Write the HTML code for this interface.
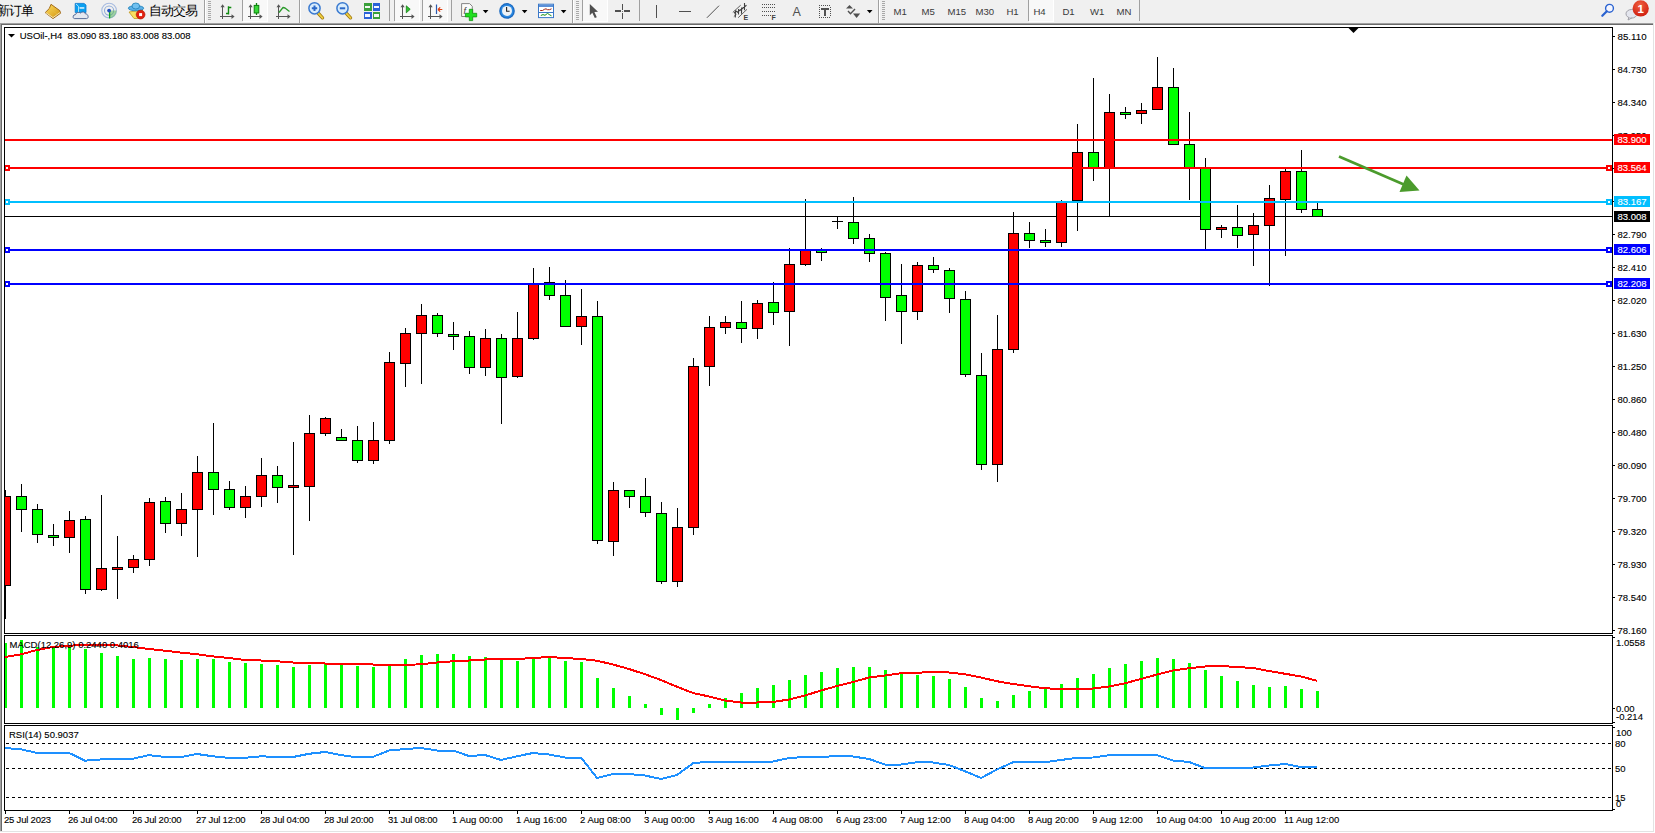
<!DOCTYPE html>
<html><head><meta charset="utf-8"><title>USOil-,H4</title>
<style>
html,body{margin:0;padding:0;width:1655px;height:833px;overflow:hidden;background:#f0f0f0;}
svg{position:absolute;left:0;top:0;display:block;}
text{font-family:'Liberation Sans', sans-serif;}
</style></head><body>
<svg width="1655" height="833" viewBox="0 0 1655 833" shape-rendering="crispEdges">
<defs>
<clipPath id="cm"><rect x="5" y="28" width="1607" height="605"/></clipPath>
<clipPath id="cmacd"><rect x="5" y="636" width="1607" height="87"/></clipPath>
<clipPath id="crsi"><rect x="5" y="726" width="1607" height="84"/></clipPath>
</defs>
<text x="-3" y="14.6" font-size="12.5" font-weight="500" font-family="'Liberation Sans', 'Noto Sans CJK SC', sans-serif" fill="#000" letter-spacing="-1">新订单</text>
<text x="148.5" y="14.6" font-size="12.5" font-weight="500" font-family="'Liberation Sans', 'Noto Sans CJK SC', sans-serif" fill="#000" letter-spacing="-0.9">自动交易</text>
<g shape-rendering="auto"><defs><linearGradient id="gb" x1="0" y1="0" x2="1" y2="1"><stop offset="0" stop-color="#ffe060"/><stop offset="1" stop-color="#d09010"/></linearGradient></defs><path d="M51,4.3 L59.8,10.6 L60.6,13.2 L53,18.6 L45.2,12.6 L49.3,8.5 Z" fill="url(#gb)" stroke="#9a6010" stroke-width="0.9"/><path d="M45.8,12.6 L53,17.6 L60.2,12.4" fill="none" stroke="#f0e0b0" stroke-width="1"/><path d="M49.5,8.6 L57.5,14.3" fill="none" stroke="#e8c040" stroke-width="0.6"/></g>
<g shape-rendering="auto"><path d="M75.2,3.4 H84 L86,5 V12.5 H75.2 Z" fill="#0aa0f0" stroke="#0a78d0" stroke-width="0.8"/><path d="M76,4 L78.5,6.3 V12" stroke="#d0f0ff" stroke-width="0.8" fill="none"/><rect x="79.5" y="7.2" width="4.8" height="1.5" fill="#e0f4ff"/><path d="M74.5,18.6 C72.5,18.6 72.5,14.5 75.5,14.6 C76,12.4 79,11.6 80.5,13 C81.8,11.3 85,11.6 85.3,13.8 C88.3,13.6 89.3,18.6 86.5,18.6 Z" fill="#e4e8f0" stroke="#4a6090" stroke-width="0.9"/></g>
<g shape-rendering="auto"><circle cx="109.1" cy="10.6" r="7.3" fill="none" stroke="#a8bce0" stroke-width="1.1"/><circle cx="109.1" cy="10.6" r="4.6" fill="none" stroke="#90acd8" stroke-width="1.1"/><path d="M109.1,10.6 V18.2 A7.6,7.6 0 0 0 116.7,10.6 Z" fill="#60b860" opacity="0.55"/><path d="M109.6,10.6 V18.4" stroke="#10a020" stroke-width="1.3"/><circle cx="109.1" cy="10.6" r="1.9" fill="#2050c0"/></g>
<g shape-rendering="auto"><path d="M129,12 L134,18.5 L140,18.5 L142.5,10 Z" fill="#f8e060" stroke="#c09820" stroke-width="0.8"/><ellipse cx="136" cy="8.2" rx="7.7" ry="2.6" fill="#5ab0e8" stroke="#2080b8" stroke-width="0.8"/><ellipse cx="135.8" cy="6" rx="3.8" ry="3" fill="#70c0f0" stroke="#2080b8" stroke-width="0.8"/><circle cx="140.6" cy="14.6" r="4.4" fill="#e02010" stroke="#b01000" stroke-width="0.6"/><rect x="139.1" y="13.1" width="3" height="3" fill="#fff"/></g>
<rect x="204" y="0" width="1" height="23" fill="#a0a0a0"/>
<rect x="205" y="0" width="1" height="23" fill="#ffffff"/>
<rect x="208" y="1" width="3" height="1" fill="#a8a8a8"/>
<rect x="208" y="3" width="3" height="1" fill="#a8a8a8"/>
<rect x="208" y="5" width="3" height="1" fill="#a8a8a8"/>
<rect x="208" y="7" width="3" height="1" fill="#a8a8a8"/>
<rect x="208" y="9" width="3" height="1" fill="#a8a8a8"/>
<rect x="208" y="11" width="3" height="1" fill="#a8a8a8"/>
<rect x="208" y="13" width="3" height="1" fill="#a8a8a8"/>
<rect x="208" y="15" width="3" height="1" fill="#a8a8a8"/>
<rect x="208" y="17" width="3" height="1" fill="#a8a8a8"/>
<rect x="208" y="19" width="3" height="1" fill="#a8a8a8"/>
<rect x="222" y="5" width="1.2" height="14" fill="#555"/><rect x="220" y="16" width="13" height="1.2" fill="#555"/><path d="M220.5,7.3 L222.6,4.3 L224.7,7.3 Z M231.5,14.2 L234.6,16.6 L231.5,19 Z" fill="#555" shape-rendering="auto"/>
<path d="M228.5,6.3 V14.5 M228.5,7.5 H231.3 M228.5,13.5 H226" stroke="#108a10" stroke-width="1.4" fill="none" shape-rendering="auto"/>
<rect x="242" y="0" width="1" height="21" fill="#a0a0a0"/>
<rect x="243" y="0" width="24" height="21" fill="#f8f8f8"/>
<rect x="267" y="0" width="1" height="22" fill="#ffffff"/>
<rect x="243" y="21" width="25" height="1" fill="#ffffff"/>
<rect x="250" y="5" width="1.2" height="14" fill="#555"/><rect x="248" y="16" width="13" height="1.2" fill="#555"/><path d="M248.5,7.3 L250.6,4.3 L252.7,7.3 Z M259.5,14.2 L262.6,16.6 L259.5,19 Z" fill="#555" shape-rendering="auto"/>
<g shape-rendering="auto"><path d="M256.5,3 V15" stroke="#108010" stroke-width="1.3"/><rect x="254.2" y="5.4" width="4.6" height="7.6" fill="#38d838" stroke="#0a800a" stroke-width="1"/></g>
<rect x="278" y="5" width="1.2" height="14" fill="#555"/><rect x="276" y="16" width="13" height="1.2" fill="#555"/><path d="M276.5,7.3 L278.6,4.3 L280.7,7.3 Z M287.5,14.2 L290.6,16.6 L287.5,19 Z" fill="#555" shape-rendering="auto"/>
<path d="M279,12.5 L283,7.5 L285,8 L289.5,11.5" stroke="#2a9a2a" stroke-width="1.3" fill="none" stroke-linejoin="round" shape-rendering="auto"/>
<rect x="299" y="0" width="1" height="23" fill="#a0a0a0"/>
<rect x="300" y="0" width="1" height="23" fill="#ffffff"/>
<g shape-rendering="auto"><line x1="318.5" y1="13.5" x2="322.5" y2="17.8" stroke="#a07810" stroke-width="3.4" stroke-linecap="round"/><line x1="318.5" y1="13.5" x2="322.5" y2="17.8" stroke="#f0d040" stroke-width="1.8" stroke-linecap="round"/><circle cx="314.5" cy="8.3" r="5.6" fill="#d8ecfc" stroke="#3a7ad0" stroke-width="1.5"/><path d="M311.8,8.3 H317.2 M314.5,5.6 V11" stroke="#2a68c8" stroke-width="2"/></g>
<g shape-rendering="auto"><line x1="346.5" y1="13.5" x2="350.5" y2="17.8" stroke="#a07810" stroke-width="3.4" stroke-linecap="round"/><line x1="346.5" y1="13.5" x2="350.5" y2="17.8" stroke="#f0d040" stroke-width="1.8" stroke-linecap="round"/><circle cx="342.5" cy="8.3" r="5.6" fill="#d8ecfc" stroke="#3a7ad0" stroke-width="1.5"/><path d="M339.8,8.3 H345.2" stroke="#2a68c8" stroke-width="2"/></g>
<g><rect x="364" y="3" width="7.5" height="7.5" fill="#3aa03a"/><rect x="372.5" y="3" width="7.5" height="7.5" fill="#2a62d8"/><rect x="364" y="11.5" width="7.5" height="7.5" fill="#2a62d8"/><rect x="372.5" y="11.5" width="7.5" height="7.5" fill="#3aa03a"/><rect x="365.3" y="5.6" width="5" height="2.6" fill="#f4f8f4"/><rect x="373.8" y="5.6" width="5" height="2.6" fill="#f4f6ff"/><rect x="365.3" y="14.1" width="5" height="2.6" fill="#f4f6ff"/><rect x="373.8" y="14.1" width="5" height="2.6" fill="#f4f8f4"/></g>
<rect x="389" y="0" width="1" height="21" fill="#a0a0a0"/>
<rect x="394" y="0" width="1" height="21" fill="#a0a0a0"/>
<rect x="395" y="0" width="24" height="21" fill="#f8f8f8"/>
<rect x="419" y="0" width="1" height="22" fill="#ffffff"/>
<rect x="395" y="21" width="25" height="1" fill="#ffffff"/>
<rect x="402" y="5" width="1.2" height="14" fill="#555"/><rect x="400" y="16" width="13" height="1.2" fill="#555"/><path d="M400.5,7.3 L402.6,4.3 L404.7,7.3 Z M411.5,14.2 L414.6,16.6 L411.5,19 Z" fill="#555" shape-rendering="auto"/>
<path d="M406.3,5.8 L410.2,9.3 L406.3,12.8 Z" fill="#30c030" stroke="#108010" stroke-width="0.8" shape-rendering="auto"/>
<rect x="422" y="0" width="1" height="21" fill="#a0a0a0"/>
<rect x="423" y="0" width="24" height="21" fill="#f8f8f8"/>
<rect x="447" y="0" width="1" height="22" fill="#ffffff"/>
<rect x="423" y="21" width="25" height="1" fill="#ffffff"/>
<rect x="430" y="5" width="1.2" height="14" fill="#555"/><rect x="428" y="16" width="13" height="1.2" fill="#555"/><path d="M428.5,7.3 L430.6,4.3 L432.7,7.3 Z M439.5,14.2 L442.6,16.6 L439.5,19 Z" fill="#555" shape-rendering="auto"/>
<path d="M436.5,4.5 V14" stroke="#2a5ab0" stroke-width="1.2" shape-rendering="auto"/><path d="M442.3,9.5 H438 M438,9.5 L440.2,7.3 M438,9.5 L440.2,11.7" stroke="#e04010" stroke-width="1.2" fill="none" shape-rendering="auto"/>
<rect x="451" y="0" width="1" height="21" fill="#a0a0a0"/>
<g shape-rendering="auto"><path d="M461.6,3.6 H469.6 L472.3,6.3 V16.5 H461.6 Z" fill="#fbfbfb" stroke="#787878" stroke-width="0.9"/><text x="463.5" y="13.5" font-size="9" font-style="italic" fill="#404040" font-family="'Liberation Serif', serif">f</text><path d="M469.3,9.3 H472.7 V13.3 H476.7 V16.9 H472.7 V20.6 H469.3 V16.9 H465.4 V13.3 H469.3 Z" fill="#20e020" stroke="#109010" stroke-width="0.8"/></g>
<path d="M482.8,10 H488.40000000000003 L485.6,13.2 Z" fill="#000" shape-rendering="auto"/>
<g shape-rendering="auto"><circle cx="507" cy="10.9" r="7.8" fill="#1a68c0"/><circle cx="507" cy="10.9" r="6.6" fill="#2a88e0"/><circle cx="507" cy="10.9" r="5.0" fill="#eef2f6"/><path d="M506.6,7 V11.2 H509.6" stroke="#202020" stroke-width="1.1" fill="none"/></g>
<path d="M521.8,10 H527.4 L524.5999999999999,13.2 Z" fill="#000" shape-rendering="auto"/>
<g shape-rendering="auto"><rect x="538.5" y="4.2" width="15" height="13.4" fill="#ffffff" stroke="#3a78c8" stroke-width="1"/><rect x="539" y="4.7" width="14" height="2.3" fill="#5a90d8"/><rect x="539" y="12" width="14" height="1" fill="#3a78c8"/><path d="M540.2,10.5 L542.5,10.5 L544.5,9.3 L546,8.8 L547.5,9.7 L549.5,9.7 L551.5,8.8" stroke="#a02010" stroke-width="1" fill="none"/><path d="M540.8,15.5 L543,14.6 L545,15.3 L547.5,13.4 L549.8,14.9 L551.5,15.8" stroke="#109010" stroke-width="1" fill="none"/></g>
<path d="M560.8,10 H566.4 L563.5999999999999,13.2 Z" fill="#000" shape-rendering="auto"/>
<rect x="572" y="0" width="1" height="23" fill="#a0a0a0"/>
<rect x="573" y="0" width="1" height="23" fill="#ffffff"/>
<rect x="576" y="1" width="3" height="1" fill="#a8a8a8"/>
<rect x="576" y="3" width="3" height="1" fill="#a8a8a8"/>
<rect x="576" y="5" width="3" height="1" fill="#a8a8a8"/>
<rect x="576" y="7" width="3" height="1" fill="#a8a8a8"/>
<rect x="576" y="9" width="3" height="1" fill="#a8a8a8"/>
<rect x="576" y="11" width="3" height="1" fill="#a8a8a8"/>
<rect x="576" y="13" width="3" height="1" fill="#a8a8a8"/>
<rect x="576" y="15" width="3" height="1" fill="#a8a8a8"/>
<rect x="576" y="17" width="3" height="1" fill="#a8a8a8"/>
<rect x="576" y="19" width="3" height="1" fill="#a8a8a8"/>
<rect x="582" y="0" width="1" height="21" fill="#a0a0a0"/>
<rect x="583" y="0" width="24" height="21" fill="#f8f8f8"/>
<rect x="607" y="0" width="1" height="22" fill="#ffffff"/>
<rect x="583" y="21" width="25" height="1" fill="#ffffff"/>
<path d="M589.8,3.9 V15.2 L592.3,12.7 L594.8,18.1 L596.8,17.2 L594.4,12.1 L598,11.8 Z" fill="#505050" shape-rendering="auto"/>
<path d="M615,11 H621 M624,11 H630 M622.5,4 V10 M622.5,13 V19" stroke="#505050" stroke-width="1.2" fill="none"/><rect x="622" y="10.5" width="1" height="1" fill="#707070"/>
<rect x="639" y="0" width="1" height="21" fill="#a0a0a0"/>
<path d="M656.5,5 V18" stroke="#505050" stroke-width="1.2"/>
<path d="M678.5,11.5 H691" stroke="#505050" stroke-width="1.2"/>
<path d="M706.9,17.8 L719,5.7" stroke="#505050" stroke-width="1" shape-rendering="auto"/>
<g shape-rendering="auto"><path d="M732.8,12.4 L740.7,5.2 M738.2,17.7 L747,9.3 M733.8,16.6 L736.5,14.2" stroke="#505050" stroke-width="0.9" fill="none"/><path d="M735.5,10.3 L735.3,17.6 M738.6,9.1 L738.5,14.4 M741.6,7.4 L741.5,13.8 M744.5,3 L744.5,10.3 M734,13 L737,11 M737,12.5 L740.5,9.6 M740,10.5 L743.5,7.5 M743,8 L746.5,5.2" stroke="#404040" stroke-width="1.1" fill="none"/></g><text x="743.6" y="20" font-size="7" font-weight="bold" fill="#404040" font-family="'Liberation Sans', sans-serif">E</text>
<g fill="#505050"><rect x="762" y="4" width="1" height="1"/><rect x="764" y="4" width="1" height="1"/><rect x="766" y="4" width="1" height="1"/><rect x="768" y="4" width="1" height="1"/><rect x="770" y="4" width="1" height="1"/><rect x="772" y="4" width="1" height="1"/><rect x="774" y="4" width="1" height="1"/><rect x="762" y="7" width="1" height="1"/><rect x="764" y="7" width="1" height="1"/><rect x="766" y="7" width="1" height="1"/><rect x="768" y="7" width="1" height="1"/><rect x="770" y="7" width="1" height="1"/><rect x="772" y="7" width="1" height="1"/><rect x="774" y="7" width="1" height="1"/><rect x="762" y="11" width="1" height="1"/><rect x="764" y="11" width="1" height="1"/><rect x="766" y="11" width="1" height="1"/><rect x="768" y="11" width="1" height="1"/><rect x="770" y="11" width="1" height="1"/><rect x="772" y="11" width="1" height="1"/><rect x="774" y="11" width="1" height="1"/><rect x="762" y="15" width="1" height="1"/><rect x="764" y="15" width="1" height="1"/><rect x="766" y="15" width="1" height="1"/><rect x="768" y="15" width="1" height="1"/><rect x="770" y="15" width="1" height="1"/></g><text x="771.6" y="20" font-size="7" font-weight="bold" fill="#404040" font-family="'Liberation Sans', sans-serif">F</text>
<text x="792.6" y="16" font-size="12.5" fill="#505050" font-family="'Liberation Sans', sans-serif">A</text>
<g fill="#505050"><rect x="819" y="5" width="1" height="1"/><rect x="819" y="17" width="1" height="1"/><rect x="821" y="5" width="1" height="1"/><rect x="821" y="17" width="1" height="1"/><rect x="823" y="5" width="1" height="1"/><rect x="823" y="17" width="1" height="1"/><rect x="825" y="5" width="1" height="1"/><rect x="825" y="17" width="1" height="1"/><rect x="827" y="5" width="1" height="1"/><rect x="827" y="17" width="1" height="1"/><rect x="829" y="5" width="1" height="1"/><rect x="829" y="17" width="1" height="1"/><rect x="819" y="7" width="1" height="1"/><rect x="830" y="7" width="1" height="1"/><rect x="819" y="9" width="1" height="1"/><rect x="830" y="9" width="1" height="1"/><rect x="819" y="11" width="1" height="1"/><rect x="830" y="11" width="1" height="1"/><rect x="819" y="13" width="1" height="1"/><rect x="830" y="13" width="1" height="1"/><rect x="819" y="15" width="1" height="1"/><rect x="830" y="15" width="1" height="1"/></g><path d="M821.3,8.8 H828.8 M825,8.8 V16" stroke="#505050" stroke-width="1.8" fill="none"/>
<g shape-rendering="auto"><path d="M846,8.6 L849.5,5 L853,8.6 Z M853,13.6 L860.2,13.6 L856.6,18 Z" fill="#505050"/><path d="M848,11 L850.5,13.8 L855,9" stroke="#505050" stroke-width="1.4" fill="none"/></g>
<path d="M866.9,10 H872.5 L869.6999999999999,13.2 Z" fill="#000" shape-rendering="auto"/>
<rect x="878" y="0" width="1" height="23" fill="#a0a0a0"/>
<rect x="879" y="0" width="1" height="23" fill="#ffffff"/>
<rect x="882" y="1" width="3" height="1" fill="#a8a8a8"/>
<rect x="882" y="3" width="3" height="1" fill="#a8a8a8"/>
<rect x="882" y="5" width="3" height="1" fill="#a8a8a8"/>
<rect x="882" y="7" width="3" height="1" fill="#a8a8a8"/>
<rect x="882" y="9" width="3" height="1" fill="#a8a8a8"/>
<rect x="882" y="11" width="3" height="1" fill="#a8a8a8"/>
<rect x="882" y="13" width="3" height="1" fill="#a8a8a8"/>
<rect x="882" y="15" width="3" height="1" fill="#a8a8a8"/>
<rect x="882" y="17" width="3" height="1" fill="#a8a8a8"/>
<rect x="882" y="19" width="3" height="1" fill="#a8a8a8"/>
<text x="893.5" y="15" font-size="9.6" fill="#3a3a3a" font-family="'Liberation Sans', sans-serif" letter-spacing="-0.1">M1</text>
<text x="921.5" y="15" font-size="9.6" fill="#3a3a3a" font-family="'Liberation Sans', sans-serif" letter-spacing="-0.1">M5</text>
<text x="947.5" y="15" font-size="9.6" fill="#3a3a3a" font-family="'Liberation Sans', sans-serif" letter-spacing="-0.1">M15</text>
<text x="975.5" y="15" font-size="9.6" fill="#3a3a3a" font-family="'Liberation Sans', sans-serif" letter-spacing="-0.1">M30</text>
<text x="1006.5" y="15" font-size="9.6" fill="#3a3a3a" font-family="'Liberation Sans', sans-serif" letter-spacing="-0.1">H1</text>
<rect x="1028" y="0" width="1" height="21" fill="#a0a0a0"/>
<rect x="1029" y="0" width="24" height="21" fill="#f8f8f8"/>
<rect x="1053" y="0" width="1" height="22" fill="#ffffff"/>
<rect x="1029" y="21" width="25" height="1" fill="#ffffff"/>
<text x="1033.5" y="15" font-size="9.6" fill="#3a3a3a" font-family="'Liberation Sans', sans-serif" letter-spacing="-0.1">H4</text>
<text x="1062.5" y="15" font-size="9.6" fill="#3a3a3a" font-family="'Liberation Sans', sans-serif" letter-spacing="-0.1">D1</text>
<text x="1090" y="15" font-size="9.6" fill="#3a3a3a" font-family="'Liberation Sans', sans-serif" letter-spacing="-0.1">W1</text>
<text x="1116.5" y="15" font-size="9.6" fill="#3a3a3a" font-family="'Liberation Sans', sans-serif" letter-spacing="-0.1">MN</text>
<rect x="1139" y="0" width="1" height="21" fill="#a0a0a0"/>
<g shape-rendering="auto"><circle cx="1609.5" cy="8.3" r="3.9" fill="#f4f6ff" stroke="#2a62d0" stroke-width="1.4"/><path d="M1606.8,11.2 L1602.3,15.8" stroke="#2a62d0" stroke-width="2.2" stroke-linecap="round"/><ellipse cx="1631.5" cy="13.8" rx="5.5" ry="4.3" fill="#e4e6ee" stroke="#a0a0a8"/><path d="M1629,17.3 L1628,20 L1632,17.8" fill="#e0e0e8" stroke="#a0a0a8"/><defs><radialGradient id="rg" cx="0.45" cy="0.3" r="0.7"><stop offset="0" stop-color="#f06040"/><stop offset="1" stop-color="#d02010"/></radialGradient></defs><circle cx="1640.7" cy="8.4" r="8.1" fill="url(#rg)"/><text x="1640.6" y="12.8" font-size="11.5" font-weight="bold" fill="#fff" text-anchor="middle" font-family="'Liberation Serif', serif">1</text></g>
<rect x="0" y="23" width="1654" height="1" fill="#a0a0a0"/>
<rect x="1" y="24" width="1652" height="1" fill="#696969"/>
<rect x="0" y="23" width="1" height="809" fill="#a0a0a0"/>
<rect x="1" y="24" width="1" height="807" fill="#696969"/>
<rect x="1653" y="23" width="1" height="809" fill="#e3e3e3"/>
<rect x="0" y="831" width="1654" height="1" fill="#e3e3e3"/>
<rect x="2" y="25" width="1651" height="806" fill="#ffffff"/>
<rect x="0" y="832" width="1655" height="1" fill="#ffffff"/>
<rect x="1654" y="23" width="1" height="810" fill="#ffffff"/>
<g clip-path="url(#cm)">
<rect x="5" y="216" width="1607" height="1" fill="#000"/>
<rect x="5" y="490" width="1" height="129" fill="#000"/>
<rect x="0" y="496" width="11" height="90" fill="#000"/>
<rect x="1" y="497" width="9" height="88" fill="#ff0000"/>
<rect x="21" y="484" width="1" height="48" fill="#000"/>
<rect x="16" y="496" width="11" height="14" fill="#000"/>
<rect x="17" y="497" width="9" height="12" fill="#00ff00"/>
<rect x="37" y="504" width="1" height="39" fill="#000"/>
<rect x="32" y="509" width="11" height="26" fill="#000"/>
<rect x="33" y="510" width="9" height="24" fill="#00ff00"/>
<rect x="53" y="524" width="1" height="22" fill="#000"/>
<rect x="48" y="535" width="11" height="3" fill="#000"/>
<rect x="49" y="536" width="9" height="1" fill="#00ff00"/>
<rect x="69" y="511" width="1" height="42" fill="#000"/>
<rect x="64" y="520" width="11" height="18" fill="#000"/>
<rect x="65" y="521" width="9" height="16" fill="#ff0000"/>
<rect x="85" y="516" width="1" height="78" fill="#000"/>
<rect x="80" y="519" width="11" height="71" fill="#000"/>
<rect x="81" y="520" width="9" height="69" fill="#00ff00"/>
<rect x="101" y="495" width="1" height="96" fill="#000"/>
<rect x="96" y="568" width="11" height="22" fill="#000"/>
<rect x="97" y="569" width="9" height="20" fill="#ff0000"/>
<rect x="117" y="536" width="1" height="63" fill="#000"/>
<rect x="112" y="567" width="11" height="3" fill="#000"/>
<rect x="113" y="568" width="9" height="1" fill="#ff0000"/>
<rect x="133" y="555" width="1" height="18" fill="#000"/>
<rect x="128" y="559" width="11" height="9" fill="#000"/>
<rect x="129" y="560" width="9" height="7" fill="#ff0000"/>
<rect x="149" y="498" width="1" height="68" fill="#000"/>
<rect x="144" y="502" width="11" height="58" fill="#000"/>
<rect x="145" y="503" width="9" height="56" fill="#ff0000"/>
<rect x="165" y="497" width="1" height="36" fill="#000"/>
<rect x="160" y="501" width="11" height="23" fill="#000"/>
<rect x="161" y="502" width="9" height="21" fill="#00ff00"/>
<rect x="181" y="493" width="1" height="43" fill="#000"/>
<rect x="176" y="509" width="11" height="15" fill="#000"/>
<rect x="177" y="510" width="9" height="13" fill="#ff0000"/>
<rect x="197" y="456" width="1" height="101" fill="#000"/>
<rect x="192" y="472" width="11" height="38" fill="#000"/>
<rect x="193" y="473" width="9" height="36" fill="#ff0000"/>
<rect x="213" y="423" width="1" height="92" fill="#000"/>
<rect x="208" y="472" width="11" height="18" fill="#000"/>
<rect x="209" y="473" width="9" height="16" fill="#00ff00"/>
<rect x="229" y="481" width="1" height="29" fill="#000"/>
<rect x="224" y="489" width="11" height="19" fill="#000"/>
<rect x="225" y="490" width="9" height="17" fill="#00ff00"/>
<rect x="245" y="486" width="1" height="32" fill="#000"/>
<rect x="240" y="496" width="11" height="12" fill="#000"/>
<rect x="241" y="497" width="9" height="10" fill="#ff0000"/>
<rect x="261" y="458" width="1" height="49" fill="#000"/>
<rect x="256" y="475" width="11" height="22" fill="#000"/>
<rect x="257" y="476" width="9" height="20" fill="#ff0000"/>
<rect x="277" y="466" width="1" height="37" fill="#000"/>
<rect x="272" y="475" width="11" height="13" fill="#000"/>
<rect x="273" y="476" width="9" height="11" fill="#00ff00"/>
<rect x="293" y="442" width="1" height="113" fill="#000"/>
<rect x="288" y="485" width="11" height="3" fill="#000"/>
<rect x="289" y="486" width="9" height="1" fill="#ff0000"/>
<rect x="309" y="415" width="1" height="106" fill="#000"/>
<rect x="304" y="433" width="11" height="54" fill="#000"/>
<rect x="305" y="434" width="9" height="52" fill="#ff0000"/>
<rect x="325" y="417" width="1" height="19" fill="#000"/>
<rect x="320" y="418" width="11" height="16" fill="#000"/>
<rect x="321" y="419" width="9" height="14" fill="#ff0000"/>
<rect x="341" y="429" width="1" height="12" fill="#000"/>
<rect x="336" y="437" width="11" height="4" fill="#000"/>
<rect x="337" y="438" width="9" height="2" fill="#00ff00"/>
<rect x="357" y="426" width="1" height="37" fill="#000"/>
<rect x="352" y="440" width="11" height="21" fill="#000"/>
<rect x="353" y="441" width="9" height="19" fill="#00ff00"/>
<rect x="373" y="422" width="1" height="42" fill="#000"/>
<rect x="368" y="440" width="11" height="21" fill="#000"/>
<rect x="369" y="441" width="9" height="19" fill="#ff0000"/>
<rect x="389" y="352" width="1" height="92" fill="#000"/>
<rect x="384" y="362" width="11" height="79" fill="#000"/>
<rect x="385" y="363" width="9" height="77" fill="#ff0000"/>
<rect x="405" y="328" width="1" height="59" fill="#000"/>
<rect x="400" y="333" width="11" height="31" fill="#000"/>
<rect x="401" y="334" width="9" height="29" fill="#ff0000"/>
<rect x="421" y="304" width="1" height="80" fill="#000"/>
<rect x="416" y="315" width="11" height="19" fill="#000"/>
<rect x="417" y="316" width="9" height="17" fill="#ff0000"/>
<rect x="437" y="313" width="1" height="24" fill="#000"/>
<rect x="432" y="315" width="11" height="19" fill="#000"/>
<rect x="433" y="316" width="9" height="17" fill="#00ff00"/>
<rect x="453" y="322" width="1" height="28" fill="#000"/>
<rect x="448" y="334" width="11" height="3" fill="#000"/>
<rect x="449" y="335" width="9" height="1" fill="#00ff00"/>
<rect x="469" y="331" width="1" height="43" fill="#000"/>
<rect x="464" y="336" width="11" height="32" fill="#000"/>
<rect x="465" y="337" width="9" height="30" fill="#00ff00"/>
<rect x="485" y="329" width="1" height="47" fill="#000"/>
<rect x="480" y="338" width="11" height="30" fill="#000"/>
<rect x="481" y="339" width="9" height="28" fill="#ff0000"/>
<rect x="501" y="334" width="1" height="90" fill="#000"/>
<rect x="496" y="338" width="11" height="40" fill="#000"/>
<rect x="497" y="339" width="9" height="38" fill="#00ff00"/>
<rect x="517" y="312" width="1" height="66" fill="#000"/>
<rect x="512" y="338" width="11" height="39" fill="#000"/>
<rect x="513" y="339" width="9" height="37" fill="#ff0000"/>
<rect x="533" y="268" width="1" height="72" fill="#000"/>
<rect x="528" y="284" width="11" height="55" fill="#000"/>
<rect x="529" y="285" width="9" height="53" fill="#ff0000"/>
<rect x="549" y="267" width="1" height="33" fill="#000"/>
<rect x="544" y="282" width="11" height="14" fill="#000"/>
<rect x="545" y="283" width="9" height="12" fill="#00ff00"/>
<rect x="565" y="280" width="1" height="47" fill="#000"/>
<rect x="560" y="295" width="11" height="32" fill="#000"/>
<rect x="561" y="296" width="9" height="30" fill="#00ff00"/>
<rect x="581" y="289" width="1" height="56" fill="#000"/>
<rect x="576" y="316" width="11" height="11" fill="#000"/>
<rect x="577" y="317" width="9" height="9" fill="#ff0000"/>
<rect x="597" y="301" width="1" height="243" fill="#000"/>
<rect x="592" y="316" width="11" height="225" fill="#000"/>
<rect x="593" y="317" width="9" height="223" fill="#00ff00"/>
<rect x="613" y="482" width="1" height="74" fill="#000"/>
<rect x="608" y="490" width="11" height="52" fill="#000"/>
<rect x="609" y="491" width="9" height="50" fill="#ff0000"/>
<rect x="629" y="490" width="1" height="18" fill="#000"/>
<rect x="624" y="490" width="11" height="7" fill="#000"/>
<rect x="625" y="491" width="9" height="5" fill="#00ff00"/>
<rect x="645" y="478" width="1" height="39" fill="#000"/>
<rect x="640" y="496" width="11" height="17" fill="#000"/>
<rect x="641" y="497" width="9" height="15" fill="#00ff00"/>
<rect x="661" y="502" width="1" height="82" fill="#000"/>
<rect x="656" y="513" width="11" height="69" fill="#000"/>
<rect x="657" y="514" width="9" height="67" fill="#00ff00"/>
<rect x="677" y="508" width="1" height="79" fill="#000"/>
<rect x="672" y="527" width="11" height="55" fill="#000"/>
<rect x="673" y="528" width="9" height="53" fill="#ff0000"/>
<rect x="693" y="358" width="1" height="177" fill="#000"/>
<rect x="688" y="366" width="11" height="162" fill="#000"/>
<rect x="689" y="367" width="9" height="160" fill="#ff0000"/>
<rect x="709" y="316" width="1" height="70" fill="#000"/>
<rect x="704" y="327" width="11" height="40" fill="#000"/>
<rect x="705" y="328" width="9" height="38" fill="#ff0000"/>
<rect x="725" y="316" width="1" height="18" fill="#000"/>
<rect x="720" y="322" width="11" height="6" fill="#000"/>
<rect x="721" y="323" width="9" height="4" fill="#ff0000"/>
<rect x="741" y="301" width="1" height="42" fill="#000"/>
<rect x="736" y="322" width="11" height="7" fill="#000"/>
<rect x="737" y="323" width="9" height="5" fill="#00ff00"/>
<rect x="757" y="300" width="1" height="39" fill="#000"/>
<rect x="752" y="303" width="11" height="26" fill="#000"/>
<rect x="753" y="304" width="9" height="24" fill="#ff0000"/>
<rect x="773" y="282" width="1" height="43" fill="#000"/>
<rect x="768" y="302" width="11" height="11" fill="#000"/>
<rect x="769" y="303" width="9" height="9" fill="#00ff00"/>
<rect x="789" y="248" width="1" height="98" fill="#000"/>
<rect x="784" y="264" width="11" height="48" fill="#000"/>
<rect x="785" y="265" width="9" height="46" fill="#ff0000"/>
<rect x="805" y="199" width="1" height="67" fill="#000"/>
<rect x="800" y="250" width="11" height="15" fill="#000"/>
<rect x="801" y="251" width="9" height="13" fill="#ff0000"/>
<rect x="821" y="248" width="1" height="13" fill="#000"/>
<rect x="816" y="250" width="11" height="3" fill="#000"/>
<rect x="817" y="251" width="9" height="1" fill="#00ff00"/>
<rect x="837" y="217" width="1" height="12" fill="#000"/>
<rect x="832" y="221" width="11" height="1" fill="#000"/>
<rect x="853" y="197" width="1" height="47" fill="#000"/>
<rect x="848" y="222" width="11" height="17" fill="#000"/>
<rect x="849" y="223" width="9" height="15" fill="#00ff00"/>
<rect x="869" y="234" width="1" height="28" fill="#000"/>
<rect x="864" y="238" width="11" height="16" fill="#000"/>
<rect x="865" y="239" width="9" height="14" fill="#00ff00"/>
<rect x="885" y="252" width="1" height="69" fill="#000"/>
<rect x="880" y="253" width="11" height="45" fill="#000"/>
<rect x="881" y="254" width="9" height="43" fill="#00ff00"/>
<rect x="901" y="264" width="1" height="80" fill="#000"/>
<rect x="896" y="295" width="11" height="17" fill="#000"/>
<rect x="897" y="296" width="9" height="15" fill="#00ff00"/>
<rect x="917" y="262" width="1" height="58" fill="#000"/>
<rect x="912" y="265" width="11" height="47" fill="#000"/>
<rect x="913" y="266" width="9" height="45" fill="#ff0000"/>
<rect x="933" y="257" width="1" height="16" fill="#000"/>
<rect x="928" y="265" width="11" height="5" fill="#000"/>
<rect x="929" y="266" width="9" height="3" fill="#00ff00"/>
<rect x="949" y="268" width="1" height="45" fill="#000"/>
<rect x="944" y="270" width="11" height="29" fill="#000"/>
<rect x="945" y="271" width="9" height="27" fill="#00ff00"/>
<rect x="965" y="291" width="1" height="86" fill="#000"/>
<rect x="960" y="299" width="11" height="76" fill="#000"/>
<rect x="961" y="300" width="9" height="74" fill="#00ff00"/>
<rect x="981" y="353" width="1" height="117" fill="#000"/>
<rect x="976" y="375" width="11" height="90" fill="#000"/>
<rect x="977" y="376" width="9" height="88" fill="#00ff00"/>
<rect x="997" y="315" width="1" height="167" fill="#000"/>
<rect x="992" y="349" width="11" height="116" fill="#000"/>
<rect x="993" y="350" width="9" height="114" fill="#ff0000"/>
<rect x="1013" y="212" width="1" height="141" fill="#000"/>
<rect x="1008" y="233" width="11" height="117" fill="#000"/>
<rect x="1009" y="234" width="9" height="115" fill="#ff0000"/>
<rect x="1029" y="222" width="1" height="26" fill="#000"/>
<rect x="1024" y="233" width="11" height="8" fill="#000"/>
<rect x="1025" y="234" width="9" height="6" fill="#00ff00"/>
<rect x="1045" y="229" width="1" height="18" fill="#000"/>
<rect x="1040" y="240" width="11" height="3" fill="#000"/>
<rect x="1041" y="241" width="9" height="1" fill="#00ff00"/>
<rect x="1061" y="200" width="1" height="47" fill="#000"/>
<rect x="1056" y="202" width="11" height="41" fill="#000"/>
<rect x="1057" y="203" width="9" height="39" fill="#ff0000"/>
<rect x="1077" y="124" width="1" height="107" fill="#000"/>
<rect x="1072" y="152" width="11" height="49" fill="#000"/>
<rect x="1073" y="153" width="9" height="47" fill="#ff0000"/>
<rect x="1093" y="78" width="1" height="103" fill="#000"/>
<rect x="1088" y="152" width="11" height="16" fill="#000"/>
<rect x="1089" y="153" width="9" height="14" fill="#00ff00"/>
<rect x="1109" y="94" width="1" height="122" fill="#000"/>
<rect x="1104" y="112" width="11" height="56" fill="#000"/>
<rect x="1105" y="113" width="9" height="54" fill="#ff0000"/>
<rect x="1125" y="107" width="1" height="12" fill="#000"/>
<rect x="1120" y="112" width="11" height="3" fill="#000"/>
<rect x="1121" y="113" width="9" height="1" fill="#00ff00"/>
<rect x="1141" y="103" width="1" height="21" fill="#000"/>
<rect x="1136" y="110" width="11" height="4" fill="#000"/>
<rect x="1137" y="111" width="9" height="2" fill="#ff0000"/>
<rect x="1157" y="57" width="1" height="53" fill="#000"/>
<rect x="1152" y="87" width="11" height="23" fill="#000"/>
<rect x="1153" y="88" width="9" height="21" fill="#ff0000"/>
<rect x="1173" y="68" width="1" height="77" fill="#000"/>
<rect x="1168" y="87" width="11" height="58" fill="#000"/>
<rect x="1169" y="88" width="9" height="56" fill="#00ff00"/>
<rect x="1189" y="112" width="1" height="88" fill="#000"/>
<rect x="1184" y="144" width="11" height="24" fill="#000"/>
<rect x="1185" y="145" width="9" height="22" fill="#00ff00"/>
<rect x="1205" y="158" width="1" height="91" fill="#000"/>
<rect x="1200" y="167" width="11" height="63" fill="#000"/>
<rect x="1201" y="168" width="9" height="61" fill="#00ff00"/>
<rect x="1221" y="225" width="1" height="13" fill="#000"/>
<rect x="1216" y="227" width="11" height="3" fill="#000"/>
<rect x="1217" y="228" width="9" height="1" fill="#ff0000"/>
<rect x="1237" y="205" width="1" height="43" fill="#000"/>
<rect x="1232" y="227" width="11" height="9" fill="#000"/>
<rect x="1233" y="228" width="9" height="7" fill="#00ff00"/>
<rect x="1253" y="213" width="1" height="53" fill="#000"/>
<rect x="1248" y="225" width="11" height="10" fill="#000"/>
<rect x="1249" y="226" width="9" height="8" fill="#ff0000"/>
<rect x="1269" y="185" width="1" height="101" fill="#000"/>
<rect x="1264" y="198" width="11" height="28" fill="#000"/>
<rect x="1265" y="199" width="9" height="26" fill="#ff0000"/>
<rect x="1285" y="169" width="1" height="87" fill="#000"/>
<rect x="1280" y="171" width="11" height="29" fill="#000"/>
<rect x="1281" y="172" width="9" height="27" fill="#ff0000"/>
<rect x="1301" y="150" width="1" height="63" fill="#000"/>
<rect x="1296" y="171" width="11" height="39" fill="#000"/>
<rect x="1297" y="172" width="9" height="37" fill="#00ff00"/>
<rect x="1317" y="203" width="1" height="14" fill="#000"/>
<rect x="1312" y="209" width="11" height="8" fill="#000"/>
<rect x="1313" y="210" width="9" height="6" fill="#00ff00"/>
<rect x="5" y="139" width="1607" height="2" fill="#ff0000"/>
<rect x="5" y="167" width="1607" height="2" fill="#ff0000"/>
<rect x="4" y="165" width="6" height="6" fill="#ff0000"/>
<rect x="6" y="167" width="2" height="2" fill="#fff"/>
<rect x="1606" y="165" width="6" height="6" fill="#ff0000"/>
<rect x="1608" y="167" width="2" height="2" fill="#fff"/>
<rect x="5" y="201" width="1607" height="2" fill="#00bfff"/>
<rect x="4" y="199" width="6" height="6" fill="#00bfff"/>
<rect x="6" y="201" width="2" height="2" fill="#fff"/>
<rect x="1606" y="199" width="6" height="6" fill="#00bfff"/>
<rect x="1608" y="201" width="2" height="2" fill="#fff"/>
<rect x="5" y="249" width="1607" height="2" fill="#0000ff"/>
<rect x="4" y="247" width="6" height="6" fill="#0000ff"/>
<rect x="6" y="249" width="2" height="2" fill="#fff"/>
<rect x="1606" y="247" width="6" height="6" fill="#0000ff"/>
<rect x="1608" y="249" width="2" height="2" fill="#fff"/>
<rect x="5" y="283" width="1607" height="2" fill="#0000ff"/>
<rect x="4" y="281" width="6" height="6" fill="#0000ff"/>
<rect x="6" y="283" width="2" height="2" fill="#fff"/>
<rect x="1606" y="281" width="6" height="6" fill="#0000ff"/>
<rect x="1608" y="283" width="2" height="2" fill="#fff"/>
</g>
<g shape-rendering="auto"><line x1="1339" y1="156.5" x2="1405" y2="185" stroke="#4b9b2c" stroke-width="2.7"/><polygon points="1406.5,175.5 1419.5,190.5 1399.5,192" fill="#4b9b2c"/></g>
<rect x="4" y="27" width="1609" height="1" fill="#000"/>
<rect x="4" y="633" width="1609" height="1" fill="#000"/>
<rect x="4" y="27" width="1" height="607" fill="#000"/>
<rect x="1612" y="27" width="1" height="607" fill="#000"/>
<rect x="4" y="635" width="1609" height="1" fill="#000"/>
<rect x="4" y="723" width="1609" height="1" fill="#000"/>
<rect x="4" y="635" width="1" height="89" fill="#000"/>
<rect x="1612" y="635" width="1" height="89" fill="#000"/>
<rect x="4" y="725" width="1609" height="1" fill="#000"/>
<rect x="4" y="810" width="1609" height="1" fill="#000"/>
<rect x="4" y="725" width="1" height="86" fill="#000"/>
<rect x="1612" y="725" width="1" height="86" fill="#000"/>
<polygon points="1348.5,28 1358.5,28 1353.5,33" fill="#000" shape-rendering="auto"/>
<rect x="1613" y="36" width="2" height="1" fill="#000"/>
<rect x="1613" y="69" width="2" height="1" fill="#000"/>
<rect x="1613" y="102" width="2" height="1" fill="#000"/>
<rect x="1613" y="135" width="2" height="1" fill="#000"/>
<rect x="1613" y="168" width="2" height="1" fill="#000"/>
<rect x="1613" y="201" width="2" height="1" fill="#000"/>
<rect x="1613" y="234" width="2" height="1" fill="#000"/>
<rect x="1613" y="267" width="2" height="1" fill="#000"/>
<rect x="1613" y="300" width="2" height="1" fill="#000"/>
<rect x="1613" y="333" width="2" height="1" fill="#000"/>
<rect x="1613" y="366" width="2" height="1" fill="#000"/>
<rect x="1613" y="399" width="2" height="1" fill="#000"/>
<rect x="1613" y="432" width="2" height="1" fill="#000"/>
<rect x="1613" y="465" width="2" height="1" fill="#000"/>
<rect x="1613" y="498" width="2" height="1" fill="#000"/>
<rect x="1613" y="531" width="2" height="1" fill="#000"/>
<rect x="1613" y="564" width="2" height="1" fill="#000"/>
<rect x="1613" y="597" width="2" height="1" fill="#000"/>
<rect x="1613" y="630" width="2" height="1" fill="#000"/>
<text x="1617.5" y="40" font-size="9.95" fill="#000" stroke="#000" stroke-width="0.12" textLength="29.06" lengthAdjust="spacingAndGlyphs">85.110</text>
<text x="1617.5" y="73" font-size="9.95" fill="#000" stroke="#000" stroke-width="0.12" textLength="29.06" lengthAdjust="spacingAndGlyphs">84.730</text>
<text x="1617.5" y="106" font-size="9.95" fill="#000" stroke="#000" stroke-width="0.12" textLength="29.06" lengthAdjust="spacingAndGlyphs">84.340</text>
<text x="1617.5" y="139" font-size="9.95" fill="#000" stroke="#000" stroke-width="0.12" textLength="29.06" lengthAdjust="spacingAndGlyphs">83.950</text>
<text x="1617.5" y="172" font-size="9.95" fill="#000" stroke="#000" stroke-width="0.12" textLength="29.06" lengthAdjust="spacingAndGlyphs">83.570</text>
<text x="1617.5" y="205" font-size="9.95" fill="#000" stroke="#000" stroke-width="0.12" textLength="29.06" lengthAdjust="spacingAndGlyphs">83.180</text>
<text x="1617.5" y="238" font-size="9.95" fill="#000" stroke="#000" stroke-width="0.12" textLength="29.06" lengthAdjust="spacingAndGlyphs">82.790</text>
<text x="1617.5" y="271" font-size="9.95" fill="#000" stroke="#000" stroke-width="0.12" textLength="29.06" lengthAdjust="spacingAndGlyphs">82.410</text>
<text x="1617.5" y="304" font-size="9.95" fill="#000" stroke="#000" stroke-width="0.12" textLength="29.06" lengthAdjust="spacingAndGlyphs">82.020</text>
<text x="1617.5" y="337" font-size="9.95" fill="#000" stroke="#000" stroke-width="0.12" textLength="29.06" lengthAdjust="spacingAndGlyphs">81.630</text>
<text x="1617.5" y="370" font-size="9.95" fill="#000" stroke="#000" stroke-width="0.12" textLength="29.06" lengthAdjust="spacingAndGlyphs">81.250</text>
<text x="1617.5" y="403" font-size="9.95" fill="#000" stroke="#000" stroke-width="0.12" textLength="29.06" lengthAdjust="spacingAndGlyphs">80.860</text>
<text x="1617.5" y="436" font-size="9.95" fill="#000" stroke="#000" stroke-width="0.12" textLength="29.06" lengthAdjust="spacingAndGlyphs">80.480</text>
<text x="1617.5" y="469" font-size="9.95" fill="#000" stroke="#000" stroke-width="0.12" textLength="29.06" lengthAdjust="spacingAndGlyphs">80.090</text>
<text x="1617.5" y="502" font-size="9.95" fill="#000" stroke="#000" stroke-width="0.12" textLength="29.06" lengthAdjust="spacingAndGlyphs">79.700</text>
<text x="1617.5" y="535" font-size="9.95" fill="#000" stroke="#000" stroke-width="0.12" textLength="29.06" lengthAdjust="spacingAndGlyphs">79.320</text>
<text x="1617.5" y="568" font-size="9.95" fill="#000" stroke="#000" stroke-width="0.12" textLength="29.06" lengthAdjust="spacingAndGlyphs">78.930</text>
<text x="1617.5" y="601" font-size="9.95" fill="#000" stroke="#000" stroke-width="0.12" textLength="29.06" lengthAdjust="spacingAndGlyphs">78.540</text>
<text x="1617.5" y="634" font-size="9.95" fill="#000" stroke="#000" stroke-width="0.12" textLength="29.06" lengthAdjust="spacingAndGlyphs">78.160</text>
<rect x="1614" y="134" width="36" height="11" fill="#ff0000"/>
<text x="1617.5" y="143" font-size="9.95" fill="#fff" stroke="#fff" stroke-width="0.12" textLength="29.06" lengthAdjust="spacingAndGlyphs">83.900</text>
<rect x="1614" y="162" width="36" height="11" fill="#ff0000"/>
<text x="1617.5" y="171" font-size="9.95" fill="#fff" stroke="#fff" stroke-width="0.12" textLength="29.06" lengthAdjust="spacingAndGlyphs">83.564</text>
<rect x="1614" y="196" width="36" height="11" fill="#00bfff"/>
<text x="1617.5" y="205" font-size="9.95" fill="#fff" stroke="#fff" stroke-width="0.12" textLength="29.06" lengthAdjust="spacingAndGlyphs">83.167</text>
<rect x="1614" y="211" width="36" height="11" fill="#000000"/>
<text x="1617.5" y="220" font-size="9.95" fill="#fff" stroke="#fff" stroke-width="0.12" textLength="29.06" lengthAdjust="spacingAndGlyphs">83.008</text>
<rect x="1614" y="244" width="36" height="11" fill="#0000ff"/>
<text x="1617.5" y="253" font-size="9.95" fill="#fff" stroke="#fff" stroke-width="0.12" textLength="29.06" lengthAdjust="spacingAndGlyphs">82.606</text>
<rect x="1614" y="278" width="36" height="11" fill="#0000ff"/>
<text x="1617.5" y="287" font-size="9.95" fill="#fff" stroke="#fff" stroke-width="0.12" textLength="29.06" lengthAdjust="spacingAndGlyphs">82.208</text>
<g clip-path="url(#cmacd)">
<rect x="4" y="643" width="3" height="65" fill="#00ff00"/>
<rect x="20" y="640" width="3" height="68" fill="#00ff00"/>
<rect x="36" y="647" width="3" height="61" fill="#00ff00"/>
<rect x="52" y="646" width="3" height="62" fill="#00ff00"/>
<rect x="68" y="645" width="3" height="63" fill="#00ff00"/>
<rect x="84" y="649" width="3" height="59" fill="#00ff00"/>
<rect x="100" y="653" width="3" height="55" fill="#00ff00"/>
<rect x="116" y="656" width="3" height="52" fill="#00ff00"/>
<rect x="132" y="659" width="3" height="49" fill="#00ff00"/>
<rect x="148" y="658" width="3" height="50" fill="#00ff00"/>
<rect x="164" y="659" width="3" height="49" fill="#00ff00"/>
<rect x="180" y="660" width="3" height="48" fill="#00ff00"/>
<rect x="196" y="659" width="3" height="49" fill="#00ff00"/>
<rect x="212" y="659" width="3" height="49" fill="#00ff00"/>
<rect x="228" y="662" width="3" height="46" fill="#00ff00"/>
<rect x="244" y="663" width="3" height="45" fill="#00ff00"/>
<rect x="260" y="664" width="3" height="44" fill="#00ff00"/>
<rect x="276" y="665" width="3" height="43" fill="#00ff00"/>
<rect x="292" y="667" width="3" height="41" fill="#00ff00"/>
<rect x="308" y="665" width="3" height="43" fill="#00ff00"/>
<rect x="324" y="664" width="3" height="44" fill="#00ff00"/>
<rect x="340" y="665" width="3" height="43" fill="#00ff00"/>
<rect x="356" y="666" width="3" height="42" fill="#00ff00"/>
<rect x="372" y="667" width="3" height="41" fill="#00ff00"/>
<rect x="388" y="666" width="3" height="42" fill="#00ff00"/>
<rect x="404" y="659" width="3" height="49" fill="#00ff00"/>
<rect x="420" y="655" width="3" height="53" fill="#00ff00"/>
<rect x="436" y="654" width="3" height="54" fill="#00ff00"/>
<rect x="452" y="654" width="3" height="54" fill="#00ff00"/>
<rect x="468" y="656" width="3" height="52" fill="#00ff00"/>
<rect x="484" y="657" width="3" height="51" fill="#00ff00"/>
<rect x="500" y="659" width="3" height="49" fill="#00ff00"/>
<rect x="516" y="661" width="3" height="47" fill="#00ff00"/>
<rect x="532" y="659" width="3" height="49" fill="#00ff00"/>
<rect x="548" y="658" width="3" height="50" fill="#00ff00"/>
<rect x="564" y="661" width="3" height="47" fill="#00ff00"/>
<rect x="580" y="662" width="3" height="46" fill="#00ff00"/>
<rect x="596" y="678" width="3" height="30" fill="#00ff00"/>
<rect x="612" y="688" width="3" height="20" fill="#00ff00"/>
<rect x="628" y="696" width="3" height="12" fill="#00ff00"/>
<rect x="644" y="704" width="3" height="4" fill="#00ff00"/>
<rect x="660" y="708" width="3" height="7" fill="#00ff00"/>
<rect x="676" y="708" width="3" height="12" fill="#00ff00"/>
<rect x="692" y="708" width="3" height="5" fill="#00ff00"/>
<rect x="708" y="704" width="3" height="4" fill="#00ff00"/>
<rect x="724" y="698" width="3" height="10" fill="#00ff00"/>
<rect x="740" y="693" width="3" height="15" fill="#00ff00"/>
<rect x="756" y="688" width="3" height="20" fill="#00ff00"/>
<rect x="772" y="685" width="3" height="23" fill="#00ff00"/>
<rect x="788" y="680" width="3" height="28" fill="#00ff00"/>
<rect x="804" y="675" width="3" height="33" fill="#00ff00"/>
<rect x="820" y="672" width="3" height="36" fill="#00ff00"/>
<rect x="836" y="668" width="3" height="40" fill="#00ff00"/>
<rect x="852" y="667" width="3" height="41" fill="#00ff00"/>
<rect x="868" y="667" width="3" height="41" fill="#00ff00"/>
<rect x="884" y="670" width="3" height="38" fill="#00ff00"/>
<rect x="900" y="673" width="3" height="35" fill="#00ff00"/>
<rect x="916" y="675" width="3" height="33" fill="#00ff00"/>
<rect x="932" y="676" width="3" height="32" fill="#00ff00"/>
<rect x="948" y="679" width="3" height="29" fill="#00ff00"/>
<rect x="964" y="687" width="3" height="21" fill="#00ff00"/>
<rect x="980" y="698" width="3" height="10" fill="#00ff00"/>
<rect x="996" y="701" width="3" height="7" fill="#00ff00"/>
<rect x="1012" y="695" width="3" height="13" fill="#00ff00"/>
<rect x="1028" y="691" width="3" height="17" fill="#00ff00"/>
<rect x="1044" y="689" width="3" height="19" fill="#00ff00"/>
<rect x="1060" y="684" width="3" height="24" fill="#00ff00"/>
<rect x="1076" y="678" width="3" height="30" fill="#00ff00"/>
<rect x="1092" y="674" width="3" height="34" fill="#00ff00"/>
<rect x="1108" y="668" width="3" height="40" fill="#00ff00"/>
<rect x="1124" y="664" width="3" height="44" fill="#00ff00"/>
<rect x="1140" y="661" width="3" height="47" fill="#00ff00"/>
<rect x="1156" y="658" width="3" height="50" fill="#00ff00"/>
<rect x="1172" y="659" width="3" height="49" fill="#00ff00"/>
<rect x="1188" y="663" width="3" height="45" fill="#00ff00"/>
<rect x="1204" y="670" width="3" height="38" fill="#00ff00"/>
<rect x="1220" y="676" width="3" height="32" fill="#00ff00"/>
<rect x="1236" y="681" width="3" height="27" fill="#00ff00"/>
<rect x="1252" y="685" width="3" height="23" fill="#00ff00"/>
<rect x="1268" y="687" width="3" height="21" fill="#00ff00"/>
<rect x="1284" y="686" width="3" height="22" fill="#00ff00"/>
<rect x="1300" y="689" width="3" height="19" fill="#00ff00"/>
<rect x="1316" y="691" width="3" height="17" fill="#00ff00"/>
<polyline points="5,657 21,654.3 37,650 53,647 69,645.7 85,645 101,645 117,645.4 133,647 149,649 165,650.7 181,652.6 197,654.3 213,656.4 229,658 245,660 261,660.5 277,661.25 293,662.5 309,663 325,663.5 341,664 357,664.25 373,664.5 389,665 405,665 421,664.25 437,662.5 453,661.25 469,660.5 485,659.5 501,659 517,659 533,658 549,657 565,658 581,659 597,660.75 613,664.5 629,669 645,674.25 661,680 677,686.75 693,693 709,696.5 725,700.5 741,702.5 757,702.5 773,702 789,699.5 805,695.5 821,690.5 837,686 853,682 869,677.5 885,675.5 901,673.25 917,672.75 933,672 949,672.5 965,674.25 981,677.5 997,681.25 1013,684 1029,686.25 1045,688.25 1061,689 1077,689 1093,688.5 1109,686.5 1125,683.25 1141,679 1157,674.5 1173,670.5 1189,668.25 1205,666.5 1221,666 1237,667 1253,668 1269,671 1285,673.75 1301,676.5 1317,680.75" fill="none" stroke="#ff0000" stroke-width="2"/>
</g>
<text x="9.5" y="648" font-size="9.5" fill="#000" stroke="#000" stroke-width="0.12">MACD(12,26,9) 0.2440 0.4016</text>
<rect x="1613" y="637" width="2" height="1" fill="#000"/>
<rect x="1613" y="708" width="2" height="1" fill="#000"/>
<rect x="1613" y="722" width="2" height="1" fill="#000"/>
<text x="1616" y="646" font-size="9.95" fill="#000" stroke="#000" stroke-width="0.12" textLength="29.06" lengthAdjust="spacingAndGlyphs">1.0558</text>
<text x="1616" y="712" font-size="9.95" fill="#000" stroke="#000" stroke-width="0.12" textLength="18.49" lengthAdjust="spacingAndGlyphs">0.00</text>
<text x="1616" y="720" font-size="9.95" fill="#000" stroke="#000" stroke-width="0.12" textLength="26.94" lengthAdjust="spacingAndGlyphs">-0.214</text>
<g clip-path="url(#crsi)">
<line x1="6" y1="743.5" x2="1611" y2="743.5" stroke="#000" stroke-width="1" stroke-dasharray="3,3"/>
<line x1="6" y1="768.5" x2="1611" y2="768.5" stroke="#000" stroke-width="1" stroke-dasharray="3,3"/>
<line x1="6" y1="797.5" x2="1611" y2="797.5" stroke="#000" stroke-width="1" stroke-dasharray="3,3"/>
<polyline points="5,748 21,749.3 37,752.9 53,752.9 69,752.9 85,760.7 101,759.4 117,758.7 133,758.7 149,755.1 165,757 181,757 197,754 213,756.3 229,757.9 245,757.8 261,756.3 277,757 293,757 309,753.8 325,752 341,755 357,757.5 373,756.8 389,750.5 405,749 421,748 437,750.5 453,750.5 469,756 485,755 501,760 517,756.25 533,753 549,754.5 565,757.5 581,757.5 597,778 613,774 629,774 645,775.5 661,779 677,775 693,763.25 709,761.5 725,761.5 741,761.5 757,761.5 773,761.5 789,758 805,757 821,757 837,756 853,756.5 869,759 885,764.5 901,764.5 917,762.25 933,762.5 949,765 965,771.25 981,778 997,769.5 1013,762.25 1029,762.25 1045,762.25 1061,760 1077,757.75 1093,757.5 1109,755.25 1125,755.25 1141,755.25 1157,755.25 1173,760.5 1189,762 1205,768 1221,768 1237,768 1253,767.5 1269,765.5 1285,764 1301,767 1317,767" fill="none" stroke="#1e90ff" stroke-width="2"/>
</g>
<text x="9" y="738" font-size="9.5" fill="#000" stroke="#000" stroke-width="0.12">RSI(14) 50.9037</text>
<rect x="1613" y="727" width="2" height="1" fill="#000"/>
<rect x="1613" y="809" width="2" height="1" fill="#000"/>
<text x="1616" y="736" font-size="9.95" fill="#000" stroke="#000" stroke-width="0.12" textLength="15.85" lengthAdjust="spacingAndGlyphs">100</text>
<text x="1615" y="747" font-size="9.95" fill="#000" stroke="#000" stroke-width="0.12" textLength="10.57" lengthAdjust="spacingAndGlyphs">80</text>
<text x="1615" y="772" font-size="9.95" fill="#000" stroke="#000" stroke-width="0.12" textLength="10.57" lengthAdjust="spacingAndGlyphs">50</text>
<text x="1615" y="801" font-size="9.95" fill="#000" stroke="#000" stroke-width="0.12" textLength="10.57" lengthAdjust="spacingAndGlyphs">15</text>
<text x="1616" y="807" font-size="9.95" fill="#000" stroke="#000" stroke-width="0.12" textLength="5.28" lengthAdjust="spacingAndGlyphs">0</text>
<rect x="5" y="811" width="1" height="3" fill="#000"/>
<text x="4" y="823" font-size="9.5" fill="#000" stroke="#000" stroke-width="0.12" letter-spacing="-0.2">25 Jul 2023</text>
<rect x="69" y="811" width="1" height="3" fill="#000"/>
<text x="68" y="823" font-size="9.5" fill="#000" stroke="#000" stroke-width="0.12" letter-spacing="-0.2">26 Jul 04:00</text>
<rect x="133" y="811" width="1" height="3" fill="#000"/>
<text x="132" y="823" font-size="9.5" fill="#000" stroke="#000" stroke-width="0.12" letter-spacing="-0.2">26 Jul 20:00</text>
<rect x="197" y="811" width="1" height="3" fill="#000"/>
<text x="196" y="823" font-size="9.5" fill="#000" stroke="#000" stroke-width="0.12" letter-spacing="-0.2">27 Jul 12:00</text>
<rect x="261" y="811" width="1" height="3" fill="#000"/>
<text x="260" y="823" font-size="9.5" fill="#000" stroke="#000" stroke-width="0.12" letter-spacing="-0.2">28 Jul 04:00</text>
<rect x="325" y="811" width="1" height="3" fill="#000"/>
<text x="324" y="823" font-size="9.5" fill="#000" stroke="#000" stroke-width="0.12" letter-spacing="-0.2">28 Jul 20:00</text>
<rect x="389" y="811" width="1" height="3" fill="#000"/>
<text x="388" y="823" font-size="9.5" fill="#000" stroke="#000" stroke-width="0.12" letter-spacing="-0.2">31 Jul 08:00</text>
<rect x="453" y="811" width="1" height="3" fill="#000"/>
<text x="452" y="823" font-size="9.5" fill="#000" stroke="#000" stroke-width="0.12">1 Aug 00:00</text>
<rect x="517" y="811" width="1" height="3" fill="#000"/>
<text x="516" y="823" font-size="9.5" fill="#000" stroke="#000" stroke-width="0.12">1 Aug 16:00</text>
<rect x="581" y="811" width="1" height="3" fill="#000"/>
<text x="580" y="823" font-size="9.5" fill="#000" stroke="#000" stroke-width="0.12">2 Aug 08:00</text>
<rect x="645" y="811" width="1" height="3" fill="#000"/>
<text x="644" y="823" font-size="9.5" fill="#000" stroke="#000" stroke-width="0.12">3 Aug 00:00</text>
<rect x="709" y="811" width="1" height="3" fill="#000"/>
<text x="708" y="823" font-size="9.5" fill="#000" stroke="#000" stroke-width="0.12">3 Aug 16:00</text>
<rect x="773" y="811" width="1" height="3" fill="#000"/>
<text x="772" y="823" font-size="9.5" fill="#000" stroke="#000" stroke-width="0.12">4 Aug 08:00</text>
<rect x="837" y="811" width="1" height="3" fill="#000"/>
<text x="836" y="823" font-size="9.5" fill="#000" stroke="#000" stroke-width="0.12">6 Aug 23:00</text>
<rect x="901" y="811" width="1" height="3" fill="#000"/>
<text x="900" y="823" font-size="9.5" fill="#000" stroke="#000" stroke-width="0.12">7 Aug 12:00</text>
<rect x="965" y="811" width="1" height="3" fill="#000"/>
<text x="964" y="823" font-size="9.5" fill="#000" stroke="#000" stroke-width="0.12">8 Aug 04:00</text>
<rect x="1029" y="811" width="1" height="3" fill="#000"/>
<text x="1028" y="823" font-size="9.5" fill="#000" stroke="#000" stroke-width="0.12">8 Aug 20:00</text>
<rect x="1093" y="811" width="1" height="3" fill="#000"/>
<text x="1092" y="823" font-size="9.5" fill="#000" stroke="#000" stroke-width="0.12">9 Aug 12:00</text>
<rect x="1157" y="811" width="1" height="3" fill="#000"/>
<text x="1156" y="823" font-size="9.5" fill="#000" stroke="#000" stroke-width="0.12">10 Aug 04:00</text>
<rect x="1221" y="811" width="1" height="3" fill="#000"/>
<text x="1220" y="823" font-size="9.5" fill="#000" stroke="#000" stroke-width="0.12">10 Aug 20:00</text>
<rect x="1285" y="811" width="1" height="3" fill="#000"/>
<text x="1284" y="823" font-size="9.5" fill="#000" stroke="#000" stroke-width="0.12">11 Aug 12:00</text>
<polygon points="8,34 15,34 11.5,37.5" fill="#000" shape-rendering="auto"/>
<text x="19.8" y="39" font-size="9.5" fill="#000" stroke="#000" stroke-width="0.12" letter-spacing="-0.04">USOil-,H4&#160;&#160;83.090 83.180 83.008 83.008</text>
</svg>
</body></html>
